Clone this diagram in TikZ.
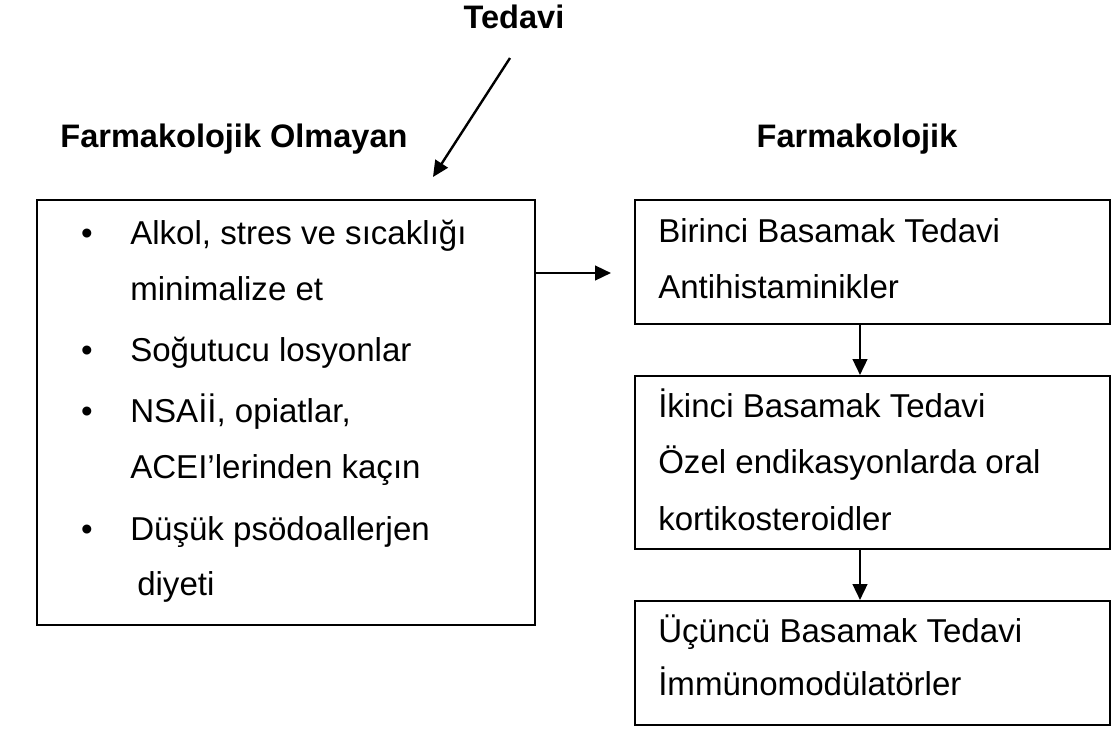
\documentclass[tikz,border=0pt]{standalone}
\usepackage{fontspec}
\setmainfont{Liberation Sans}
\usetikzlibrary{arrows.meta}
\begin{document}
\begin{tikzpicture}[x=0.75pt,y=-0.75pt,
  every node/.style={font=\fontsize{24.8}{30}\selectfont},
  box/.style={draw=black, line width=1.5pt, rectangle, inner sep=0pt},
  txt/.style={inner sep=0pt, anchor=base west},
  hdr/.style={inner sep=0pt, anchor=base, font=\fontsize{24.4}{30}\selectfont\bfseries},
  bul/.style={inner sep=0pt, anchor=base},
  arr/.style={line width=1.8pt, -{Triangle[length=12pt,width=11pt]}}]
\useasboundingbox (0,0) rectangle (1111,729);
% headers
\node[hdr] (ted) at (514,28) {Tedavi};
\node[hdr] (fo) at (234,147) {Farmakolojik Olmayan};
\node[hdr] (fk) at (857,147) {Farmakolojik};
% boxes
\node[box, minimum width=373.5pt, minimum height=318.75pt] (lb) at (286,412.5) {};
\node[box, minimum width=356.25pt, minimum height=93pt] (b1) at (872.5,262) {};
\node[box, minimum width=356.25pt, minimum height=129.75pt] (b2) at (872.5,462.5) {};
\node[box, minimum width=356.25pt, minimum height=93pt] (b3) at (872.5,663) {};
% left box text
\node[bul] (u1) at (87,244) {•};
\node[txt] (t1) at (130,244) {Alkol, stres ve sıcaklığı};
\node[txt] (t2) at (130,300) {minimalize et};
\node[bul] (u2) at (87,361) {•};
\node[txt] (t3) at (130,361) {Soğutucu losyonlar};
\node[bul] (u3) at (87,422) {•};
\node[txt] (t4) at (130,422) {NSAİİ, opiatlar,};
\node[txt] (t5) at (130,478) {ACEI’lerinden kaçın};
\node[bul] (u4) at (87,540) {•};
\node[txt] (t6) at (130,540) {Düşük psödoallerjen};
\node[txt] (t7) at (137,595) {diyeti};
% right box texts
\node[txt] (r1) at (658,242) {Birinci Basamak Tedavi};
\node[txt] (r2) at (658,298) {Antihistaminikler};
\node[txt] (r3) at (658,417) {İkinci Basamak Tedavi};
\node[txt] (r4) at (658,473) {Özel endikasyonlarda oral};
\node[txt] (r5) at (658,530) {kortikosteroidler};
\node[txt] (r6) at (658,642) {Üçüncü Basamak Tedavi};
\node[txt] (r7) at (658,695) {İmmünomodülatörler};
% connectors
\coordinate (d1) at (510,58);
\coordinate (d2) at (433,177);
\draw[arr] (d1) -- (d2);
\coordinate (h) at (611,273);
\draw[arr] (lb.east |- h) -- (h);
\coordinate (vx) at (860,0);
\draw[arr] (b1.south -| vx) -- (b2.north -| vx);
\draw[arr] (b2.south -| vx) -- (b3.north -| vx);
\end{tikzpicture}
\end{document}
